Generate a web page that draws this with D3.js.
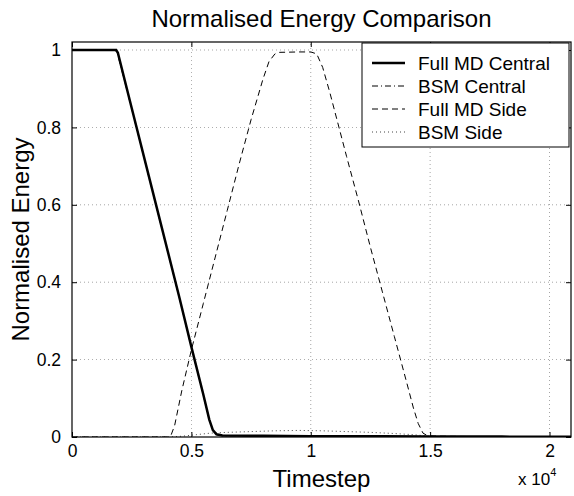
<!DOCTYPE html>
<html><head><meta charset="utf-8">
<script src="https://cdn.jsdelivr.net/npm/d3@7"></script>
<style>body{margin:0;background:#fff}svg{display:block}text{font-family:"Liberation Sans",Arial,Helvetica,sans-serif}</style>
</head><body>
<script>
const xTicks = [0, 5000, 10000, 15000, 20000];
const xTickLabels = ["0", "0.5", "1", "1.5", "2"];
const yTicks = [0, 0.2, 0.4, 0.6, 0.8, 1];
const yTickLabels = ["0", "0.2", "0.4", "0.6", "0.8", "1"];
const seriesNames = ["Full MD Central", "BSM Central", "Full MD Side", "BSM Side"];

const fullMDCentral = [[0,1],[1850,1],[1920,0.993],[2500,0.85],[3500,0.605],[4500,0.36],[5000,0.233],[5500,0.11],[5750,0.045],[5900,0.018],[6050,0.007],[6300,0.004],[8000,0.003],[10000,0.002],[13000,0.002],[15000,0.001],[18000,0.001],[20900,0.0005]];
const bsmCentral = [[0,1],[1800,1],[1900,0.992],[2500,0.848],[3500,0.603],[4500,0.358],[5000,0.231],[5500,0.108],[5750,0.044],[5900,0.017],[6050,0.006],[6300,0.003],[10000,0.002],[15000,0.001],[20900,0.0005]];
const fullMDSide = [[0,0],[4000,0],[4150,0.005],[4300,0.03],[4600,0.12],[5000,0.225],[5500,0.345],[6000,0.465],[6500,0.585],[7000,0.705],[7500,0.82],[8000,0.925],[8250,0.97],[8500,0.99],[8700,0.994],[9500,0.995],[10000,0.995],[10250,0.99],[10500,0.955],[10800,0.89],[11500,0.725],[12000,0.61],[12500,0.49],[13000,0.375],[13500,0.26],[14000,0.145],[14300,0.075],[14500,0.035],[14700,0.01],[14900,0.003],[15500,0.002],[17000,0.001],[18000,0.001],[20900,0]];
const bsmSide = [[0,0],[4000,0],[4600,0.002],[5200,0.006],[5800,0.01],[6500,0.012],[7500,0.014],[8500,0.016],[9500,0.017],[10500,0.016],[11500,0.014],[12500,0.012],[13500,0.009],[14300,0.006],[14800,0.003],[15300,0.001],[16000,0],[20900,0]];

const W = 574, H = 496;
const svg = d3.select("body").append("svg").attr("width", W).attr("height", H);
const L = 72, R = 571, T = 42, B = 437;
const x = d3.scaleLinear().domain([0, 20900]).range([L, R]);
const y = d3.scaleLinear().domain([0, 1.0207]).range([B, T]);

// grid
const g = svg.append("g");
xTicks.forEach(t => { if (t > 0) g.append("line").attr("x1", x(t)).attr("x2", x(t)).attr("y1", B).attr("y2", T).attr("stroke", "#000").attr("stroke-width", 0.7).attr("stroke-dasharray", "1,3").attr("opacity", 0.5); });
yTicks.forEach(t => { if (t > 0) g.append("line").attr("x1", L).attr("x2", R).attr("y1", y(t)).attr("y2", y(t)).attr("stroke", "#000").attr("stroke-width", 0.7).attr("stroke-dasharray", "1,3").attr("opacity", 0.5); });

const line = d3.line().x(d => x(d[0])).y(d => y(d[1]));
svg.append("clipPath").attr("id", "c").append("rect").attr("x", L).attr("y", T).attr("width", R - L).attr("height", B - T);
const plot = svg.append("g").attr("clip-path", "url(#c)");
plot.append("path").datum(bsmSide).attr("d", line).attr("fill", "none").attr("stroke", "#444").attr("stroke-width", 1).attr("stroke-dasharray", "1,3");
plot.append("path").datum(fullMDSide).attr("d", line).attr("fill", "none").attr("stroke", "#000").attr("stroke-width", 1).attr("stroke-dasharray", "6,4");
plot.append("path").datum(fullMDCentral).attr("d", line).attr("fill", "none").attr("stroke", "#000").attr("stroke-width", 2.5);
plot.append("path").datum(bsmCentral).attr("d", line).attr("fill", "none").attr("stroke", "#000").attr("stroke-width", 1).attr("stroke-dasharray", "6,3,1,3");

// axes box
svg.append("rect").attr("x", L).attr("y", T).attr("width", R - L).attr("height", B - T).attr("fill", "none").attr("stroke", "#000").attr("stroke-width", 1.2);

// ticks inward using d3 axes
const axB = d3.axisBottom(x).tickValues(xTicks).tickSize(-5).tickFormat((d, i) => xTickLabels[i]).tickPadding(8);
const gB = svg.append("g").attr("transform", `translate(0,${B})`).call(axB);
const axT = d3.axisTop(x).tickValues(xTicks).tickSize(-5).tickFormat("");
const gT = svg.append("g").attr("transform", `translate(0,${T})`).call(axT);
const axL = d3.axisLeft(y).tickValues(yTicks).tickSize(-5).tickFormat((d, i) => yTickLabels[i]).tickPadding(11);
const gL = svg.append("g").attr("transform", `translate(${L},0)`).call(axL);
const axR = d3.axisRight(y).tickValues(yTicks).tickSize(-5).tickFormat("");
const gR = svg.append("g").attr("transform", `translate(${R},0)`).call(axR);
[gB, gT, gL, gR].forEach(a => { a.select(".domain").remove(); a.selectAll("line").attr("stroke", "#000"); a.selectAll("text").attr("fill", "#000").style("font-size", "17.5px").style("font-family", '"Liberation Sans",Arial,sans-serif'); });
gB.selectAll("text").attr("dy", "0.71em");

// legend
const lg = svg.append("g");
lg.append("rect").attr("x", 362).attr("y", 43).attr("width", 207).attr("height", 104).attr("fill", "#fff").attr("stroke", "#000").attr("stroke-width", 1);
const styles = [
  {w: 2.5, dash: null, c: "#000"},
  {w: 1, dash: "6,3,1,3", c: "#000"},
  {w: 1, dash: "6,4", c: "#000"},
  {w: 1, dash: "1,3", c: "#444"}
];
seriesNames.forEach((n, i) => {
  const yy = 63 + i * 23;
  const ln = lg.append("line").attr("x1", 372).attr("x2", 405).attr("y1", yy).attr("y2", yy).attr("stroke", styles[i].c).attr("stroke-width", styles[i].w);
  if (styles[i].dash) ln.attr("stroke-dasharray", styles[i].dash);
  lg.append("text").attr("x", 418).attr("y", yy + 7).style("font-size", "19px").text(n);
});

// titles
svg.append("text").attr("x", (L + R) / 2).attr("y", 27).attr("text-anchor", "middle").style("font-size", "24px").text("Normalised Energy Comparison");
svg.append("text").attr("x", (L + R) / 2).attr("y", 487).attr("text-anchor", "middle").style("font-size", "24px").text("Timestep");
svg.append("text").attr("transform", `translate(29,${(T + B) / 2}) rotate(-90)`).attr("text-anchor", "middle").style("font-size", "24px").text("Normalised Energy");
const ex = svg.append("text").attr("x", 518).attr("y", 485).style("font-size", "17px");
ex.append("tspan").text("x 10");
ex.append("tspan").attr("dy", -9).style("font-size", "11px").text("4");
</script>
</body></html>
